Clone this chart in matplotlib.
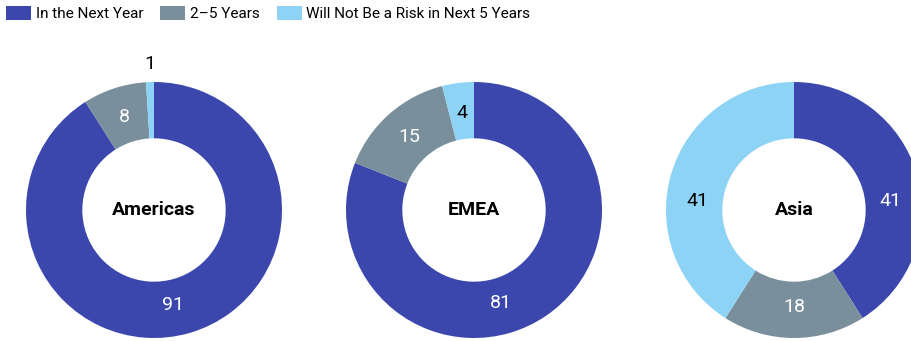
"""Donut charts: when each region expects the risk to materialise."""

import numpy as np
import matplotlib.pyplot as plt
from matplotlib.patches import Patch

plt.rcParams['font.family'] = ['Roboto', 'DejaVu Sans']

# data
regions = ['Americas', 'EMEA', 'Asia']
categories = ['In the Next Year', '2\u20135 Years', 'Will Not Be a Risk in Next 5 Years']
next_year = [91, 81, 41]
two_to_five = [8, 15, 18]
no_risk = [1, 4, 41]

colors = ['#3c47ae', '#7a8f9c', '#8dd3f6']
label_colors = ['white', 'white', 'black']
# angular nudge (deg) of each value label away from the wedge middle
label_shift = [[-5, 0, 0], [-18, 0, 0], [-11, 0, 11]]

W, H = 912, 341
fig = plt.figure(figsize=(W / 100, H / 100), dpi=100)

radius_px = 128
centers_x = [154, 474, 794]
center_y = H - 210
ring = 0.44

for i, region in enumerate(regions):
    cx = centers_x[i]
    ax = fig.add_axes([(cx - radius_px) / W, (center_y - radius_px) / H,
                       2 * radius_px / W, 2 * radius_px / H])
    vals = [next_year[i], two_to_five[i], no_risk[i]]
    wedges, _ = ax.pie(vals, colors=colors, startangle=90, counterclock=False,
                       radius=1, wedgeprops=dict(width=ring, linewidth=0))
    ax.set_xlim(-1, 1)
    ax.set_ylim(-1, 1)
    ax.set_aspect('equal')
    ax.axis('off')

    for w, v, lc, sh in zip(wedges, vals, label_colors, label_shift[i]):
        mid = np.deg2rad((w.theta1 + w.theta2) / 2 + sh)
        r = 0.76 if v >= 3 else 1.14
        color = lc if v >= 3 else 'black'
        ax.text(r * np.cos(mid), r * np.sin(mid), f'{v}', ha='center', va='center',
                fontsize=14, color=color, clip_on=False)

    ax.text(0, 0, region, ha='center', va='center', fontsize=14, fontweight='bold')

handles = [Patch(facecolor=c, edgecolor='none') for c in colors]
fig.legend(handles, categories, loc='upper left', bbox_to_anchor=(0.0, 1.0),
           ncol=3, frameon=False, fontsize=11, handlelength=1.65, handleheight=1.0,
           handletextpad=0.3, columnspacing=1.1, borderpad=0.3, borderaxespad=0.1)

fig.savefig('out.png', dpi=100)
